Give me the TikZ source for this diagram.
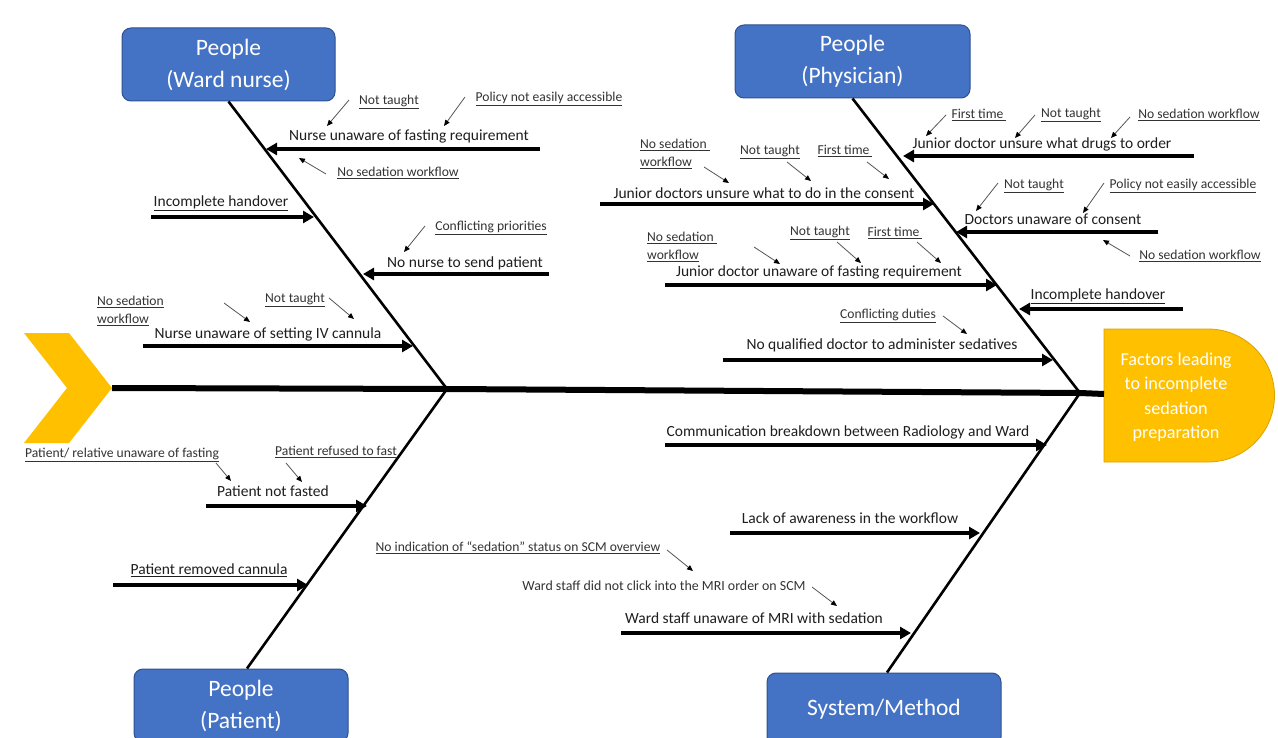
\documentclass[tikz,border=0pt]{standalone}
\usepackage{fontspec}
\setmainfont{Carlito}
\usetikzlibrary{arrows.meta}
\definecolor{boxblue}{HTML}{4472C4}
\definecolor{boxedge}{HTML}{2F528F}
\definecolor{headyel}{HTML}{FFC000}
\definecolor{headedge}{HTML}{D9A300}
\definecolor{txt}{HTML}{1E1E1E}
\definecolor{stxt}{HTML}{333333}
\definecolor{sline}{HTML}{555555}
\begin{document}
\begin{tikzpicture}[x=1pt,y=-1pt,
  catbox/.style={draw=boxedge, line width=1pt, fill=boxblue, rounded corners=9pt, text=white,
    font=\fontsize{23.5}{32}\selectfont, align=center, inner sep=0pt},
  bone/.style={line width=2.6pt, black},
  spineline/.style={line width=6pt, black},
  bigarrow/.style={line width=4pt, black, -{Triangle[length=11pt,width=12pt]}},
  smallarrow/.style={line width=0.8pt, sline, -{Triangle[length=6pt,width=5pt,color=black]}},
  cause/.style={font=\fontsize{15.5}{18}\selectfont, text=txt, inner sep=0pt, anchor=center, yshift=-2pt},
  sub/.style={font=\fontsize{13.6}{18}\selectfont, text=stxt, inner sep=0pt, anchor=center, align=left, yshift=-2pt},
]
\useasboundingbox (0,0) rectangle (1278,738);
\clip (0,0) rectangle (1278,738);
\fill[white] (0,0) rectangle (1278,738);

% tail chevron and head
\fill[headyel] (24,333) -- (69,333) -- (112,388) -- (69,443) -- (24,443) -- (67,388) -- cycle;
\coordinate (tail) at (112,388);
\filldraw[fill=headyel, draw=headedge, line width=0.8pt] (1104,329) -- (1208,329) arc[start angle=-90, end angle=90, radius=66.5] -- (1104,462) -- cycle;
\node[text=white, font=\fontsize{18.2}{24.5}\selectfont, align=center, inner sep=0pt] (head) at (1176,397) {Factors leading\\to incomplete\\sedation\\preparation};
\coordinate (headW) at (1104,394);

% junctions on spine
\coordinate (j1) at (447,389);
\coordinate (j2) at (1080,393);
\draw[spineline] (tail) -- (j1) -- (j2) -- (headW);

% category boxes
\node[catbox, minimum width=213pt, minimum height=73pt] (nurse) at (228.5,64.5) {People\\(Ward nurse)};
\node[catbox, minimum width=235pt, minimum height=73pt] (phys) at (852.5,61.5) {People\\(Physician)};
\node[catbox, minimum width=214pt, minimum height=73pt] (patient) at (241,705.5) {People\\(Patient)};
\node[catbox, minimum width=234pt, minimum height=73pt] (system) at (884,709.5) {System/Method};

% bones
\draw[bone] (nurse.south) -- (j1);
\draw[bone] (phys.south) -- (j2);
\draw[bone] (patient.north) ++(6,0) coordinate (patTop) (patTop) -- (j1);
\draw[bone] (system.north) ++(3,0) coordinate (sysTop) (sysTop) -- (j2);

% ---------- Ward nurse ----------
\coordinate (a1s) at (540,149); \coordinate (a1e) at (266,149);
\draw[bigarrow] (a1s) -- (a1e);
\node[cause] (c1) at (409,134) {Nurse unaware of fasting requirement};
\node[sub] (s1a) at (389,100) {\underline{Not taught}};
\node[sub] (s1b) at (549,97) {\underline{Policy not easily accessible}};
\node[sub] (s1c) at (398,171) {\underline{No sedation workflow}};
\coordinate (p1a) at (349,100); \coordinate (q1a) at (327,126);
\coordinate (p1b) at (465,97); \coordinate (q1b) at (444,126);
\coordinate (p1c) at (326,174); \coordinate (q1c) at (299,158);
\draw[smallarrow] (p1a) -- (q1a);
\draw[smallarrow] (p1b) -- (q1b);
\draw[smallarrow] (p1c) -- (q1c);

\coordinate (a2s) at (151,217); \coordinate (a2e) at (314,217);
\draw[bigarrow] (a2s) -- (a2e);
\node[cause] (c2) at (221,201) {\underline{Incomplete handover}};

\coordinate (a3s) at (549,274); \coordinate (a3e) at (363,274);
\draw[bigarrow] (a3s) -- (a3e);
\node[cause] (c3) at (465,261) {No nurse to send patient};
\node[sub] (s3a) at (491,226) {\underline{Conflicting priorities}};
\coordinate (p3a) at (425,226); \coordinate (q3a) at (404,252);
\draw[smallarrow] (p3a) -- (q3a);

\coordinate (a4s) at (143,346); \coordinate (a4e) at (413,346);
\draw[bigarrow] (a4s) -- (a4e);
\node[cause] (c4) at (268,332) {Nurse unaware of setting IV cannula};
\node[sub, anchor=west] (s4a) at (97,309) {\underline{No sedation}\\\underline{workflow}};
\node[sub] (s4b) at (295,298) {\underline{Not taught}};
\coordinate (p4a) at (224,303); \coordinate (q4a) at (250,322);
\coordinate (p4b) at (329,298); \coordinate (q4b) at (354,319);
\draw[smallarrow] (p4a) -- (q4a);
\draw[smallarrow] (p4b) -- (q4b);

% ---------- Physician ----------
\coordinate (a5s) at (1194,156); \coordinate (a5e) at (903,156);
\draw[bigarrow] (a5s) -- (a5e);
\node[cause] (c5) at (1042,142) {Junior doctor unsure what drugs to order};
\node[sub] (s5a) at (979,113) {\underline{First time }};
\node[sub] (s5b) at (1071,113) {\underline{Not taught}};
\node[sub] (s5c) at (1199,113) {\underline{No sedation workflow}};
\coordinate (p5a) at (946,115); \coordinate (q5a) at (926,136);
\coordinate (p5b) at (1035,115); \coordinate (q5b) at (1015,138);
\coordinate (p5c) at (1130,117); \coordinate (q5c) at (1111,138);
\draw[smallarrow] (p5a) -- (q5a);
\draw[smallarrow] (p5b) -- (q5b);
\draw[smallarrow] (p5c) -- (q5c);

\coordinate (a6s) at (600,204); \coordinate (a6e) at (934,204);
\draw[bigarrow] (a6s) -- (a6e);
\node[cause] (c6) at (764,191) {Junior doctors unsure what to do in the consent};
\node[sub, anchor=west] (s6a) at (640,152) {\underline{No sedation }\\\underline{workflow}};
\node[sub] (s6b) at (770,150) {\underline{Not taught}};
\node[sub] (s6c) at (845,149) {\underline{First time }};
\coordinate (p6a) at (704,167); \coordinate (q6a) at (729,183);
\coordinate (p6b) at (787,162); \coordinate (q6b) at (811,181);
\coordinate (p6c) at (867,162); \coordinate (q6c) at (889,179);
\draw[smallarrow] (p6a) -- (q6a);
\draw[smallarrow] (p6b) -- (q6b);
\draw[smallarrow] (p6c) -- (q6c);

\coordinate (a7s) at (1158,232); \coordinate (a7e) at (956,232);
\draw[bigarrow] (a7s) -- (a7e);
\node[cause] (c7) at (1053,217) {Doctors unaware of consent};
\node[sub] (s7a) at (1034,184) {\underline{Not taught}};
\node[sub] (s7b) at (1183,184) {\underline{Policy not easily accessible}};
\node[sub] (s7c) at (1200,254) {\underline{No sedation workflow}};
\coordinate (p7a) at (998,183); \coordinate (q7a) at (976,211);
\coordinate (p7b) at (1104,183); \coordinate (q7b) at (1083,213);
\coordinate (p7c) at (1130,256); \coordinate (q7c) at (1103,240);
\draw[smallarrow] (p7a) -- (q7a);
\draw[smallarrow] (p7b) -- (q7b);
\draw[smallarrow] (p7c) -- (q7c);

\coordinate (a8s) at (665,285); \coordinate (a8e) at (997,285);
\draw[bigarrow] (a8s) -- (a8e);
\node[cause] (c8) at (819,270) {Junior doctor unaware of fasting requirement};
\node[sub, anchor=west] (s8a) at (647,245) {\underline{No sedation }\\\underline{workflow}};
\node[sub] (s8b) at (820,231) {\underline{Not taught}};
\node[sub] (s8c) at (895,231) {\underline{First time }};
\coordinate (p8a) at (754,247); \coordinate (q8a) at (780,264);
\coordinate (p8b) at (837,242); \coordinate (q8b) at (861,263);
\coordinate (p8c) at (917,242); \coordinate (q8c) at (941,263);
\draw[smallarrow] (p8a) -- (q8a);
\draw[smallarrow] (p8b) -- (q8b);
\draw[smallarrow] (p8c) -- (q8c);

\coordinate (a9s) at (1183,309); \coordinate (a9e) at (1019,309);
\draw[bigarrow] (a9s) -- (a9e);
\node[cause] (c9) at (1098,294) {\underline{Incomplete handover}};

\coordinate (a10s) at (723,360); \coordinate (a10e) at (1053,360);
\draw[bigarrow] (a10s) -- (a10e);
\node[cause] (c10) at (882,343) {No qualified doctor to administer sedatives};
\node[sub] (s10a) at (888,314) {\underline{Conflicting duties}};
\coordinate (p10a) at (943,316); \coordinate (q10a) at (967,334);
\draw[smallarrow] (p10a) -- (q10a);

% ---------- Patient ----------
\coordinate (a11s) at (206,506); \coordinate (a11e) at (367,506);
\draw[bigarrow] (a11s) -- (a11e);
\node[cause] (c11) at (273,489) {Patient not fasted};
\node[sub] (s11a) at (122,453) {\underline{Patient/ relative unaware of fasting}};
\node[sub] (s11b) at (336,450) {\underline{Patient refused to fast}};
\coordinate (p11a) at (216,463); \coordinate (q11a) at (231,481);
\coordinate (p11b) at (286,463); \coordinate (q11b) at (302,482);
\draw[smallarrow] (p11a) -- (q11a);
\draw[smallarrow] (p11b) -- (q11b);

\coordinate (a12s) at (113,585); \coordinate (a12e) at (308,585);
\draw[bigarrow] (a12s) -- (a12e);
\node[cause] (c12) at (209,568) {\underline{Patient removed cannula}};

% ---------- System / Method ----------
\coordinate (a13s) at (665,445); \coordinate (a13e) at (1047,445);
\draw[bigarrow] (a13s) -- (a13e);
\node[cause] (c13) at (848,430) {Communication breakdown between Radiology and Ward};

\coordinate (a14s) at (730,533); \coordinate (a14e) at (980,533);
\draw[bigarrow] (a14s) -- (a14e);
\node[cause] (c14) at (850,516) {Lack of awareness in the workflow};

\coordinate (a15s) at (621,633); \coordinate (a15e) at (911,633);
\draw[bigarrow] (a15s) -- (a15e);
\node[cause] (c15) at (754,616) {Ward staff unaware of MRI with sedation};
\node[sub] (s15a) at (518,546) {\underline{No indication of “sedation” status on SCM overview}};
\node[sub, font=\fontsize{13.9}{16}\selectfont] (s15b) at (664,584) {Ward staff did not click into the MRI order on SCM};
\coordinate (p15a) at (667,550); \coordinate (q15a) at (693,571);
\coordinate (p15b) at (812,587); \coordinate (q15b) at (837,606);
\draw[smallarrow] (p15a) -- (q15a);
\draw[smallarrow] (p15b) -- (q15b);
\end{tikzpicture}
\end{document}
